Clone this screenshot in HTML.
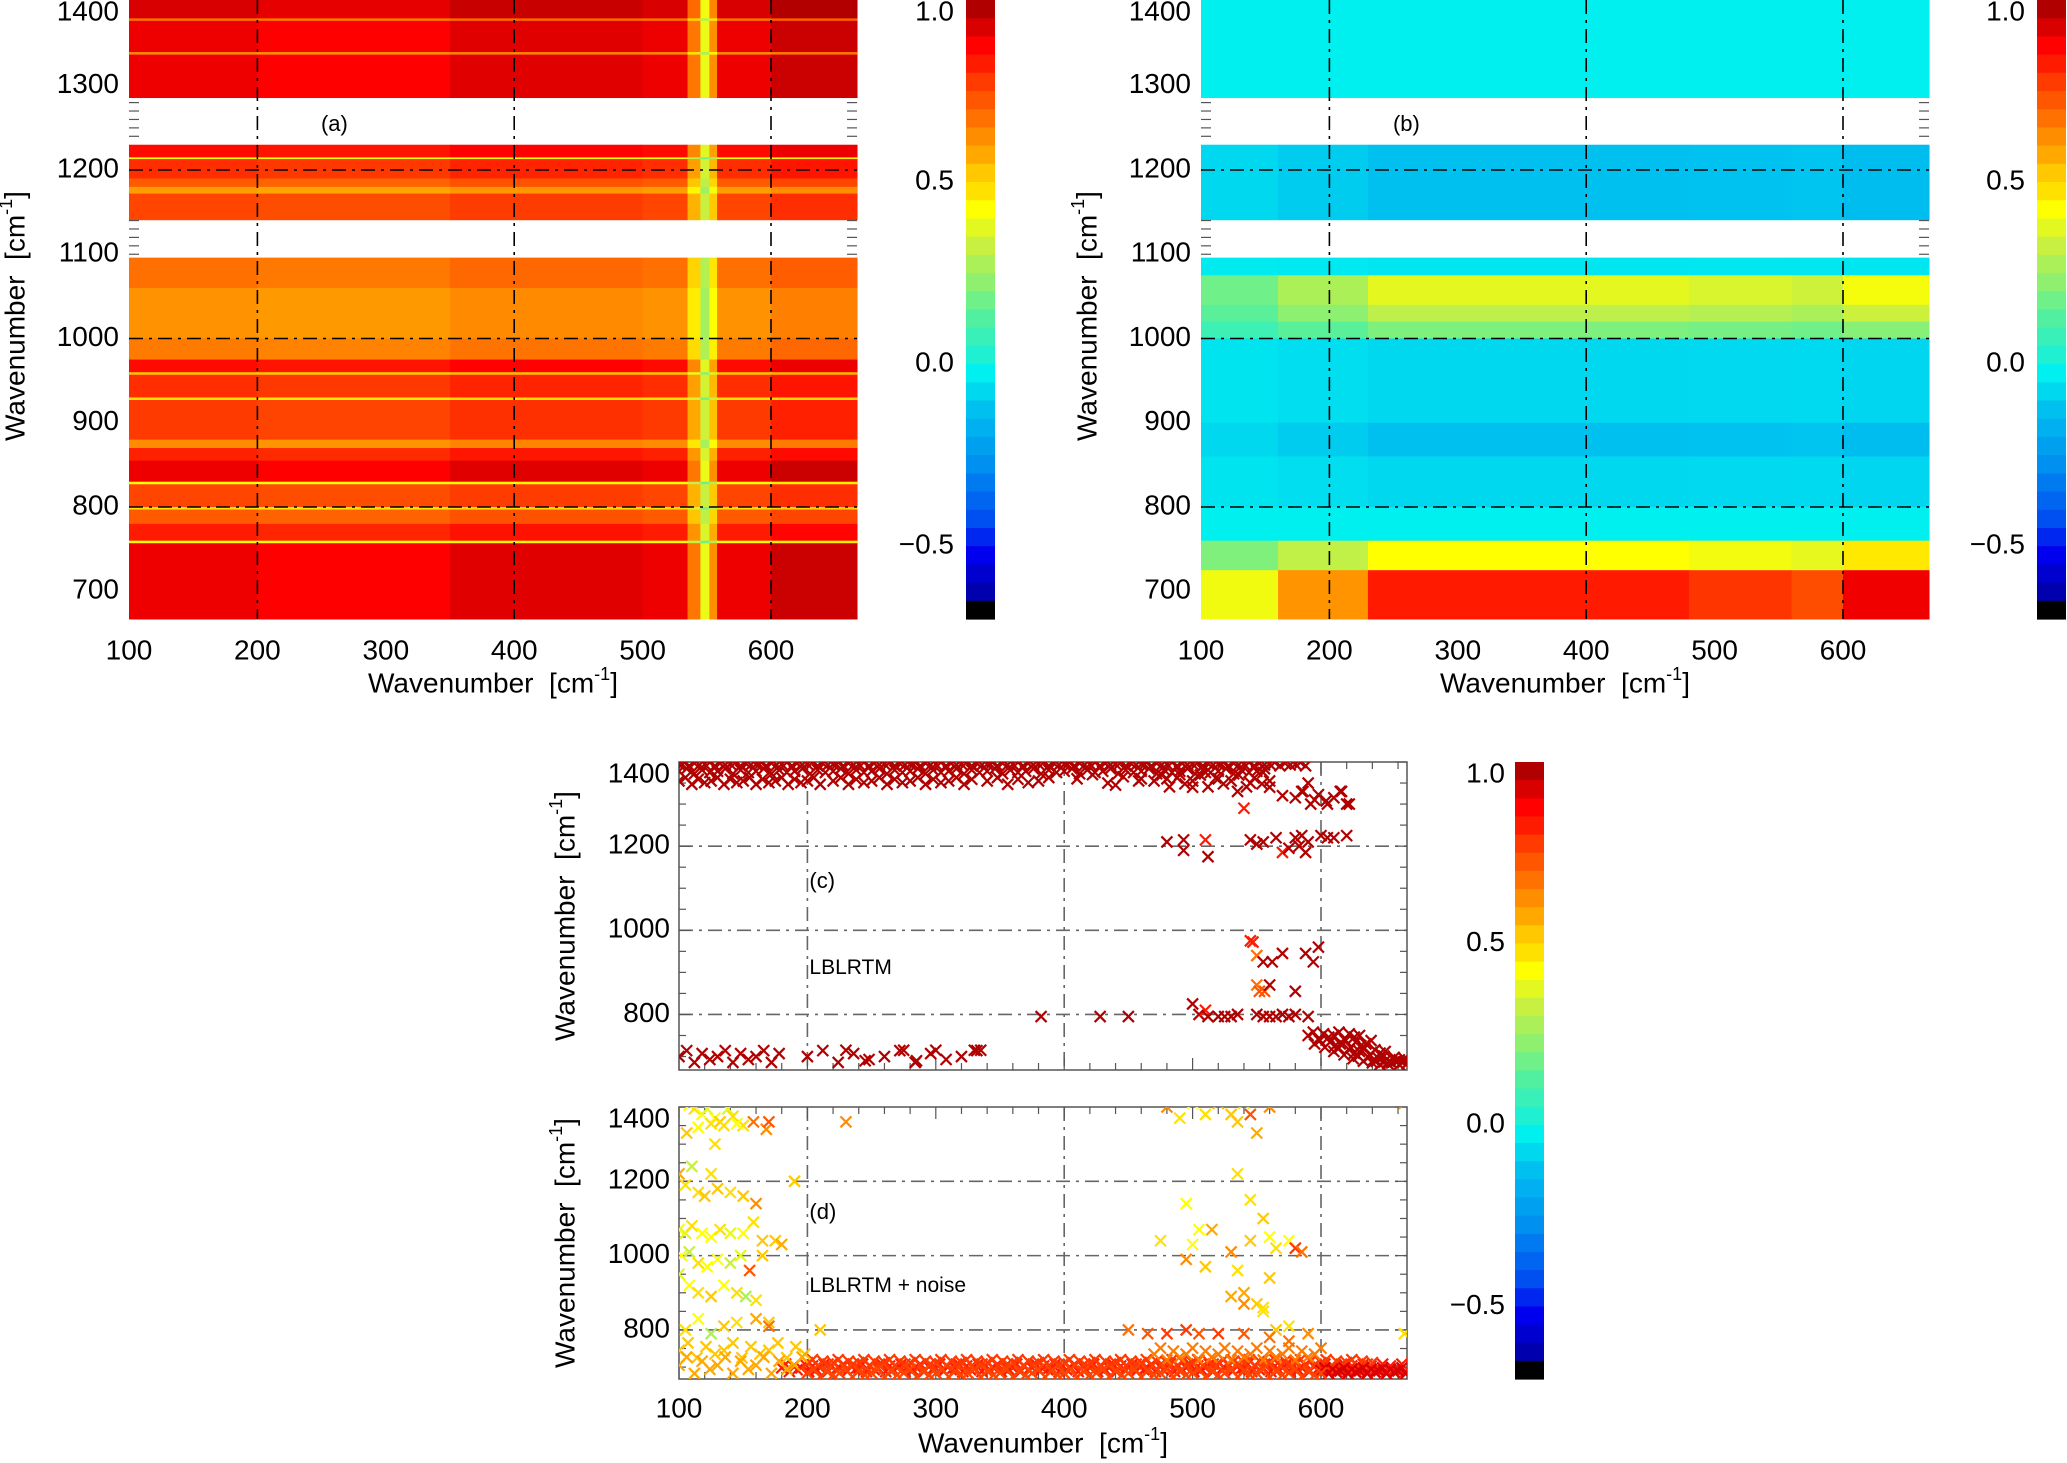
<!DOCTYPE html>
<html><head><meta charset="utf-8">
<style>
html,body{margin:0;padding:0;background:#fff;}
svg{display:block;font-family:"Liberation Sans",sans-serif;}
</style></head>
<body>
<svg id="fig" width="2067" height="1463" viewBox="0 0 2067 1463" xmlns="http://www.w3.org/2000/svg"></svg>
<script>
// ---------- data: panel (a) row bands (wavenumber ranges) and values ----------
const rowTopA = [1402,1380,1377,1340,1337,1230,1215,1213,1190,1180,1172,1096,1060,1000,975,960,957,930,927,880,870,855,830,827,800,797,780,760,757];
const rowBotA = [1380,1377,1340,1337,1286,1215,1213,1190,1180,1172,1141,1060,1000,975,960,957,930,927,880,870,855,830,827,800,797,780,760,757,667];
const rowValA = [0.95,0.7,0.92,0.65,0.92,0.88,0.45,0.82,0.74,0.62,0.78,0.7,0.64,0.68,0.88,0.55,0.82,0.5,0.8,0.65,0.84,0.92,0.45,0.78,0.5,0.74,0.85,0.45,0.92];
const colLoA = [100,200,350,500,535,545,552,558,600];
const colHiA = [200,350,500,535,545,552,558,600,667];
const colFacA = [1.0,0.98,1.02,1.0,0.75,0.45,0.7,1.0,1.05];
// ---------- panel (b) ----------
const rowTopB = [1402,1230,1096,1075,1040,1020,1000,900,860,800,760,725];
const rowBotB = [1286,1141,1075,1040,1020,1000,900,860,800,760,725,667];
const rowValB = [0.0,-0.1,-0.02,0.4,0.33,0.22,-0.05,-0.1,-0.05,0.0,0.45,0.85];
const colLoB = [100,160,230,480,560,600];
const colHiB = [160,230,480,560,600,667];
const colFacB = [0.5,0.75,1.0,0.95,0.9,1.08];
// ---------- panel (c) scatter ----------
const cSegX0 = [100,100,100,220,340,410,470,580,590,595,610,625,640,100,200];
const cSegX1 = [590,560,210,330,390,460,560,625,630,640,650,667,667,180,340];
const cSegY  = [1395,1378,1355,1355,1355,1360,1355,1315,750,730,712,695,685,700,700];
const cSegJ  = [4,6,8,8,8,10,14,15,8,8,8,6,4,14,14];
const cSegS  = [4,6,5,6,8,12,6,6,4,4,4,4,3,6,12];
const cSegV  = [1,1,1,1,1,1,1,1,1,1,1,1,1,1,1];
const cPtX = [480,490,500,510,520,535,540,545,555,560,570,585,590,595,605,615,620,440,460,
  480,493,493,510,512,545,550,555,565,570,575,580,583,585,590,588,600,605,610,620,
  545,547,550,555,562,570,588,594,598,550,552,556,560,580,
  382,428,450,500,505,510,512,520,525,530,535,550,555,560,565,570,575,580,590,
  230,245,275,285,300,330,335];
const cPtY = [1360,1370,1340,1375,1360,1330,1290,1350,1375,1340,1320,1330,1350,1310,1300,1330,1300,1345,1360,
  1210,1215,1190,1215,1175,1215,1205,1210,1220,1185,1195,1220,1200,1225,1210,1185,1225,1220,1220,1225,
  975,972,940,925,925,945,945,925,960,870,855,855,870,855,
  795,795,795,825,800,810,795,795,795,795,800,800,795,795,795,800,795,800,795,
  715,690,715,690,715,715,715];
const cPtV = [1,1,1,1,1,1,0.85,1,1,1,1,1,1,1,1,1,1,1,1,
  1,1,1,0.85,1,1,1,1,1,0.85,1,1,1,1,1,1,1,1,1,1,
  0.85,0.85,0.7,1,1,1,1,1,1,0.7,0.75,0.75,1,1,
  1,1,1,1,1,0.85,1,1,1,1,1,1,1,1,1,1,1,1,1,
  1,1,1,1,1,1,1];
// ---------- panel (d) scatter ----------
const dSegX0 = [180,200,100,100,470,600,200];
const dSegX1 = [667,640,200,200,600,667,600];
const dSegY  = [698,712,745,705,735,690,684];
const dSegJ  = [10,8,20,22,16,8,10];
const dSegS  = [3,4,7,6,5,3,5];
const dSegV  = [0.85,0.8,0.55,0.6,0.68,0.95,0.78];
const dPtX = [103,108,112,118,122,128,132,138,142,150,158,168,170,106,115,125,135,145,128,
  100,105,110,115,120,125,130,140,150,160,190,
  100,105,110,118,125,132,140,150,158,165,175,180,
  102,108,115,122,130,140,148,155,165,
  100,108,115,125,135,145,152,160,170,
  105,115,125,135,145,160,170,210,230,
  480,490,500,510,520,530,535,540,545,550,560,665,
  535,495,545,555,
  475,500,505,515,530,545,560,565,575,580,585,
  495,510,535,540,550,555,560,
  530,540,555,565,575,
  450,465,480,495,505,520,540,560,575,590,665];
const dPtY = [1415,1405,1395,1380,1395,1370,1360,1395,1375,1350,1360,1340,1360,1330,1345,1355,1350,1355,1300,
  1220,1190,1240,1170,1160,1220,1180,1170,1160,1140,1200,
  1070,1060,1080,1060,1050,1070,1060,1060,1090,1040,1040,1030,
  1000,1010,980,970,990,980,1000,960,1000,
  950,920,900,890,920,900,890,880,820,
  800,830,790,810,820,830,810,800,1360,
  1400,1370,1410,1380,1410,1380,1360,1410,1380,1330,1400,1410,
  1220,1140,1150,1100,
  1040,1030,1070,1070,1010,1040,1050,1020,1040,1020,1010,
  990,970,960,900,870,850,940,
  890,870,860,800,810,
  800,790,790,800,790,790,790,780,770,790,790];
const dPtV = [0.35,0.45,0.5,0.45,0.4,0.45,0.55,0.4,0.5,0.5,0.7,0.65,0.75,0.55,0.45,0.5,0.5,0.45,0.5,
  0.6,0.5,0.35,0.5,0.55,0.5,0.55,0.5,0.55,0.65,0.55,
  0.45,0.4,0.5,0.45,0.45,0.5,0.4,0.45,0.5,0.55,0.55,0.6,
  0.45,0.35,0.5,0.45,0.45,0.35,0.4,0.75,0.55,
  0.4,0.45,0.5,0.55,0.45,0.5,0.3,0.5,0.55,
  0.5,0.45,0.3,0.55,0.5,0.6,0.7,0.55,0.65,
  0.65,0.5,0.45,0.5,0.6,0.55,0.55,0.5,0.75,0.6,0.65,0.65,
  0.5,0.45,0.5,0.55,
  0.5,0.45,0.45,0.6,0.65,0.55,0.45,0.5,0.45,0.8,0.7,
  0.65,0.55,0.5,0.6,0.55,0.5,0.55,
  0.6,0.65,0.5,0.55,0.5,
  0.7,0.75,0.8,0.8,0.75,0.8,0.75,0.7,0.7,0.65,0.5];
// ---------- axis ticks ----------
const xTicks = [100,200,300,400,500,600];
const yTicksAB = [700,800,900,1000,1100,1200,1300,1400];
const yTicksCD = [800,1000,1200,1400];
const cbTicks = [-0.5,0.0,0.5,1.0];
const cbLabels = ["\u22120.5","0.0","0.5","1.0"];

// ---------- colour map ----------
const cmV = [1.0,0.95,0.9,0.85,0.8,0.75,0.7,0.65,0.6,0.55,0.5,0.45,0.35,0.25,0.15,0.05,0.0,-0.1,-0.25,-0.4,-0.5,-0.6,-0.65];
const cmC = ["#b00000","#d80000","#ff0000","#ff1a00","#ff3a00","#ff5500","#ff7000","#ff8c00","#ffa800","#ffc800","#ffe000","#ffff00","#c8f040","#90f070","#50f0a0","#20f0d0","#00f0f0","#00c0f0","#0090f0","#0050f0","#0000f0","#0000b0","#000080"];
function hex(c){return [parseInt(c.substr(1,2),16),parseInt(c.substr(3,2),16),parseInt(c.substr(5,2),16)];}
function cmap(v){
  if(v< -0.65) return "#000000";
  if(v>=1.0) return cmC[0];
  for(let i=0;i<cmV.length-1;i++){
    if(v<=cmV[i] && v>=cmV[i+1]){
      const t=(cmV[i]-v)/(cmV[i]-cmV[i+1]);
      const a=hex(cmC[i]),b=hex(cmC[i+1]);
      return "rgb("+a.map((x,k)=>Math.round(x+(b[k]-x)*t)).join(",")+")";
    }
  }
  return cmC[cmC.length-1];
}
const NS="http://www.w3.org/2000/svg";
const svg=document.getElementById('fig');
function el(tag,attrs,parent){const e=document.createElementNS(NS,tag);for(const k in attrs)e.setAttribute(k,attrs[k]);(parent||svg).appendChild(e);return e;}
function mkX(x0,v0,k){return v=>x0+(v-v0)*k;}

function axisText(g,x,y,txt,anchor,size){
  const t=el('text',{x:x,y:y,'font-size':size,'text-anchor':anchor,'dominant-baseline':'middle',fill:'#000'},g);
  t.textContent=txt;return t;
}
function yLabel(g,x,cy){
  const t=el('text',{x:0,y:0,'font-size':28,'text-anchor':'middle','dominant-baseline':'middle',transform:`translate(${x},${cy}) rotate(-90)`},g);
  
  
  t.innerHTML='Wavenumber&#160;&#160;[cm<tspan font-size="18" dy="-10">-1</tspan><tspan dy="10">]</tspan>';
}
function xLabel(g,cx,y){
  const t=el('text',{x:cx,y:y,'font-size':28,'text-anchor':'middle','dominant-baseline':'middle'},g);
  
  
  t.innerHTML='Wavenumber&#160;&#160;[cm<tspan font-size="18" dy="-10">-1</tspan><tspan dy="10">]</tspan>';
}
function colorbar(name,x,top,bot,lblX){
  const g=el('g',{});
  
  
  const vy=v=>top+(1.0-v)*(bot-top)/1.7;
  for(let i=0;i<34;i++){
    const vt=1.0-i*0.05, vb=vt-0.05;
    const r=el('rect',{x:x,y:vy(vt),width:29,height:vy(vb)-vy(vt)+0.6,fill:i==33?'#000':cmap(vt-0.001)},g);
    
    
  }
  cbTicks.forEach((v,i)=>{
    const t=axisText(g,lblX,Math.max(vy(v),top+13),cbLabels[i],'end',28);
    
    
  });
}
function dashH(g,x1,x2,y,col){el('line',{x1:x1,x2:x2,y1:y,y2:y,stroke:col,'stroke-width':1.6,'stroke-dasharray':'14,6,3,6'},g);}
function dashV(g,x,y1,y2,col){el('line',{x1:x,x2:x,y1:y1,y2:y2,stroke:col,'stroke-width':1.6,'stroke-dasharray':'14,6,3,6'},g);}

// ---------- heatmap panels ----------
function heatPanel(name,left,rowTop,rowBot,rowVal,colLo,colHi,colFac,tag){
  const top=0,bot=619;
  const X=mkX(left,100,1.284);
  const Y=v=>170+(1200-v)*0.8425;
  const g=el('g',{});
  
  
  for(let r=0;r<rowVal.length;r++){
    for(let c=0;c<colFac.length;c++){
      const y1=Y(rowTop[r]),y2=Y(rowBot[r]);
      const rc=el('rect',{x:X(colLo[c]),y:Math.max(top,y1),width:X(colHi[c])-X(colLo[c])+0.5,height:Math.min(bot,y2)-Math.max(top,y1)+0.5,fill:cmap(rowVal[r]*colFac[c])},g);
      
      
    }
  }
  const right=X(667);
  for(let v=1090;v<=1290;v+=10){
    const y=Y(v);
    if((v>1230&&v<1286)||(v>1096&&v<1141)){el('line',{x1:right-10,x2:right,y1:y,y2:y,stroke:'#555','stroke-width':1.2},g);el('line',{x1:left,x2:left+10,y1:y,y2:y,stroke:'#555','stroke-width':1.2},g);}
  }
  [800,1000,1200].forEach(v=>dashH(g,left,right,Y(v),'#000'));
  [200,400,600].forEach(v=>dashV(g,X(v),top,bot,'#000'));
  xTicks.forEach(v=>{const t=axisText(g,X(v),652,String(v),'middle',28);});
  yTicksAB.forEach(v=>{const t=axisText(g,left-10,Math.max(Y(v),13),String(v),'end',28);});
  const tl=axisText(g,X(260),125,tag,'middle',22);
  
  
  xLabel(g,(left+right)/2,685);
  yLabel(g,left-112,316);
}
heatPanel('heatmap-panel-a',129,rowTopA,rowBotA,rowValA,colLoA,colHiA,colFacA,'(a)');
heatPanel('heatmap-panel-b',1201,rowTopB,rowBotB,rowValB,colLoB,colHiB,colFacB,'(b)');
colorbar('colorbar-a',966,0,619,954);
colorbar('colorbar-b',2037,0,619,2025);

// ---------- scatter panels ----------
function scatterPanel(name,top,bot,segX0,segX1,segY,segJ,segS,segV,ptX,ptY,ptV,tag,label,showX){
  const left=679,right=1407;
  const X=mkX(left,100,1.284);
  const k=(bot-top)/(1400-668);
  const Y=v=>top+(1400-v)*k;
  const g=el('g',{});
  
  
  [800,1000,1200].forEach(v=>dashH(g,left,right,Y(v),'#666'));
  [200,400,600].forEach(v=>dashV(g,X(v),top,bot,'#666'));
  el('rect',{x:left,y:top,width:right-left,height:bot-top,fill:'none',stroke:'#555','stroke-width':1.5},g);
  for(let v=100;v<=660;v+=20){const L=(v%100==0)?12:7;el('line',{x1:X(v),x2:X(v),y1:bot,y2:bot-L,stroke:'#555','stroke-width':1.2},g);el('line',{x1:X(v),x2:X(v),y1:top,y2:top+L,stroke:'#555','stroke-width':1.2},g);}
  for(let v=700;v<=1400;v+=50){const L=(v%200==0)?12:7;el('line',{x1:left,x2:left+L,y1:Y(v),y2:Y(v),stroke:'#555','stroke-width':1.2},g);el('line',{x1:right,x2:right-L,y1:Y(v),y2:Y(v),stroke:'#555','stroke-width':1.2},g);}
  const cp=el('clipPath',{id:name+'-clip'},g);
  el('rect',{x:left,y:top,width:right-left,height:bot-top},cp);
  const mg=el('g',{'stroke-width':2.2,'stroke-linecap':'butt','clip-path':`url(#${name}-clip)`},g);
  function mark(x,y,v){
    const px=X(x),py=Y(y),s=5.5,c=cmap(v);
    const p=el('path',{d:`M${px-s},${py-s}L${px+s},${py+s}M${px-s},${py+s}L${px+s},${py-s}`,stroke:c},mg);
    
    
  }
  const off=[0,1,-1,0.5,-0.5];
  for(let i=0;i<segY.length;i++){
    let n=0;
    for(let x=segX0[i];x<=segX1[i];x+=segS[i]){ mark(x,segY[i]+segJ[i]*off[n%5],segV[i]); n++; }
  }
  for(let i=0;i<ptX.length;i++) mark(ptX[i],ptY[i],ptV[i]);
  yTicksCD.forEach(v=>{const t=axisText(g,left-9,Math.max(Y(v),top+13),String(v),'end',28);});
  const tg=axisText(g,X(200)+2,top+(bot-top)*0.39,tag,'start',22);
  
  
  const lb=axisText(g,X(200)+2,top+(bot-top)*(tag=='(c)'?0.67:0.66),label,'start',21);
  
  
  if(showX){
    xTicks.forEach(v=>{const t=axisText(g,X(v),1410,String(v),'middle',28);});
    xLabel(g,(left+right)/2,1445);
  }
  yLabel(g,567,(top+bot)/2);
}
scatterPanel('scatter-panel-c',762,1070,cSegX0,cSegX1,cSegY,cSegJ,cSegS,cSegV,cPtX,cPtY,cPtV,'(c)','LBLRTM',false);
scatterPanel('scatter-panel-d',1107,1379,dSegX0,dSegX1,dSegY,dSegJ,dSegS,dSegV,dPtX,dPtY,dPtV,'(d)','LBLRTM  +  noise',true);
colorbar('colorbar-cd',1515,762,1379,1505);
</script>
</body></html>
